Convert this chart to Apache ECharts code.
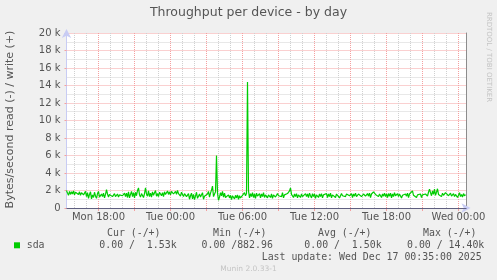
<!DOCTYPE html>
<html>
<head>
<meta charset="utf-8">
<script src="https://cdn.jsdelivr.net/npm/echarts@6/dist/echarts.min.js"></script>
<style>
html,body{margin:0;padding:0;background:#f0f0f0;}
#chart{width:497px;height:280px;}
</style>
</head>
<body>
<div id="chart"></div>
<script>
// ---- data (minutes since Mon 00:00; one sample per 5 minutes) ----
const startMinute = 920;      // Mon 15:20
const endMinute = 2920;       // Wed 00:40
const stepMinutes = 5;
const writeValues = [
2000,1700,1450,1900,1550,1850,1600,1950,1500,1800,1650,2000,1550,1850,1450,1750,1950,1500,1700,1900,
1300,1750,1100,1550,1850,1050,1500,1200,1800,1350,1100,1650,1900,1250,1050,1600,1300,1700,1150,1550,
2100,1600,1250,1550,1350,1600,1300,1500,1650,1300,1450,1600,1250,1500,1650,1350,1400,1550,1700,1300,
1700,1200,1850,1150,1550,1900,1300,1750,1150,1800,1400,2000,2300,1500,1250,1650,1850,1200,1650,2300,
1600,1350,1950,1300,1700,1250,1850,1450,1750,2000,1350,1650,1300,1800,1950,1400,1750,1300,1850,1550,
1750,1950,1550,1850,1500,1900,2000,1600,1450,1900,1550,2000,1650,1500,1350,1800,1600,1300,1650,1450,
1300,1100,1650,1000,1400,1700,1050,1550,950,1350,1800,1100,1000,1600,1250,1050,1750,1000,1350,1500,
1150,1600,1900,1250,1700,2050,2500,1300,1100,1850,6000,1700,890,1250,1750,1400,1900,1250,1700,1200,
1350,1000,1500,1150,1450,950,1400,1550,1050,1450,1150,1500,1000,1400,1150,1050,1450,1500,1750,1400,
1650,14400,1950,1150,1650,1300,1750,1200,1600,1100,1700,1350,1200,1650,1150,1600,1300,1750,1200,1500,
1650,1150,1500,1700,1200,1600,1100,1500,1700,1250,1150,1650,1400,1200,1600,1300,1750,1150,1500,1600,
1300,1650,1800,1950,2300,1550,1350,1200,1600,1300,1650,1150,1500,1700,1200,1600,1300,1500,1150,1650,
1300,1600,1200,1700,1400,1150,1650,1300,1600,1100,1500,1700,1200,1600,1300,1650,1150,1500,1600,1300,
1650,1200,1600,1300,1700,1150,1500,1650,1300,1200,1600,1400,1700,1150,1350,1650,1400,1200,1600,1300,
1600,1750,1800,1400,1300,1650,1200,1600,1350,1700,1300,1150,1600,1400,1650,1300,1200,1600,1700,1350,
1300,1650,1350,1700,1200,1600,1750,1850,2050,1550,1350,1650,1300,1600,1750,1200,1600,1350,1700,1300,
1600,1200,1650,1350,1700,1150,1600,1300,1750,1400,1200,1650,1300,1600,1700,1150,1450,1650,1300,1600,
1350,1700,1200,1600,1750,1800,1950,1450,1300,1650,1200,1500,1700,1300,1600,1200,1500,1650,1300,1600,
1700,1350,1800,2150,1750,1400,1950,1550,2150,1450,1800,2200,1550,1350,1650,1300,1700,1450,1350,1750,
1850,1950,1400,1300,1700,1350,1200,1650,1300,1550,1700,1200,1450,1750,1300,1550,1250,1650,1400,1530
];
const labelMinutes = [1080, 1440, 1800, 2160, 2520, 2880];
const labelTexts = ['Mon 18:00', 'Tue 00:00', 'Tue 06:00', 'Tue 12:00', 'Tue 18:00', 'Wed 00:00'];
const majorMinutes = [1080, 1260, 1440, 1620, 1800, 1980, 2160, 2340, 2520, 2700, 2880];
const minorMinutes = [960,1020,1140,1200,1320,1380,1500,1560,1680,1740,1860,1920,2040,2100,2220,2280,2400,2460,2580,2640,2760,2820];
const yMax = 20000;
const yStep = 2000;
const legendHeaders = ['Cur (-/+)', 'Min (-/+)', 'Avg (-/+)', 'Max (-/+)'];
const legendValues = ['0.00 /  1.53k', '0.00 /882.96', '0.00 /  1.50k', '0.00 / 14.40k'];
const seriesName = 'sda';
const titleText = 'Throughput per device - by day';
const yTitle = 'Bytes/second read (-) / write (+)';
const lastUpdate = 'Last update: Wed Dec 17 00:35:00 2025';
const footer = 'Munin 2.0.33-1';
const sideText = 'RRDTOOL / TOBI OETIKER';

// ---- chart ----
const seriesData = writeValues.map((v, i) => [startMinute + i * stepMinutes, v]);
const SANS = 'DejaVu Sans';
const MONO = 'DejaVu Sans Mono';
const TXT = '#555555';
const AXIS = '#c8ccf4';
const RED = '#f5a0a0';
const GRAY = '#d0d0d0';

const headerX = [107, 213, 318, 423];
const valueX = [99.3, 201.5, 304.3, 407];

const graphics = [
  {type:'text', left:'center', top:6, style:{text:titleText, font:'12.5px ' + SANS, fill:TXT}},
  {type:'text', x:10, y:119.5, rotation:Math.PI/2, style:{text:yTitle, font:'11px ' + SANS, fill:TXT, textAlign:'center', textVerticalAlign:'middle'}},
  {type:'text', x:489, y:57, rotation:-Math.PI/2, style:{text:sideText, font:'7px ' + SANS, fill:'#c4c4c4', textAlign:'center', textVerticalAlign:'middle'}},
  {type:'rect', shape:{x:14, y:242.3, width:6, height:6}, style:{fill:'#00cc00'}},
  {type:'text', x:26.7, y:245.7, style:{text:seriesName, font:'9.9px ' + MONO, fill:TXT, textVerticalAlign:'middle'}},
  {type:'text', x:261.7, y:257.3, style:{text:lastUpdate, font:'9.9px ' + MONO, fill:TXT, textVerticalAlign:'middle'}},
  {type:'text', x:248.5, y:269, style:{text:footer, font:'7.5px ' + SANS, fill:'#c4c4c4', textAlign:'center', textVerticalAlign:'middle'}}
];
legendHeaders.forEach((t, i) => graphics.push({type:'text', x:headerX[i], y:233.3, style:{text:t, font:'9.9px ' + MONO, fill:TXT, textVerticalAlign:'middle'}}));
legendValues.forEach((t, i) => graphics.push({type:'text', x:valueX[i], y:245.7, style:{text:t, font:'9.9px ' + MONO, fill:TXT, textVerticalAlign:'middle'}}));

const fmtMinute = v => {
  const idx = labelMinutes.indexOf(v);
  return idx >= 0 ? labelTexts[idx] : '';
};

const gridMarks = []
  .concat(minorMinutes.map(m => ({xAxis:m, lineStyle:{color:GRAY, type:[1,1], width:1}})))
  .concat(majorMinutes.map(m => ({xAxis:m, lineStyle:{color:RED, type:[1,1], width:1}})));

const chart = echarts.init(document.getElementById('chart'), null, {renderer:'canvas'});
chart.setOption({
  animation:false,
  backgroundColor:'#f0f0f0',
  grid:{left:66.5, top:33, width:400, height:175, show:true, backgroundColor:'#ffffff', borderWidth:0},
  xAxis:[
    {type:'value', min:startMinute, max:endMinute, position:'bottom',
     axisLine:{show:true, lineStyle:{color:AXIS, width:1}, symbol:['none','arrow'], symbolSize:[7,9], symbolOffset:[0,4]},
     axisTick:{show:true, customValues:majorMinutes, length:3, lineStyle:{color:RED}},
     axisLabel:{show:true, customValues:labelMinutes, formatter:fmtMinute, fontFamily:SANS, fontSize:10, color:TXT, margin:4},
     splitLine:{show:false}}
  ],
  yAxis:[
    {type:'value', min:0, max:yMax, interval:yStep, position:'left',
     axisLine:{show:true, lineStyle:{color:AXIS, width:1}, symbol:['none','arrow'], symbolSize:[7,9], symbolOffset:[0,4]},
     axisTick:{show:true, length:2, lineStyle:{color:RED}},
     axisLabel:{fontFamily:SANS, fontSize:10, color:TXT, margin:6, formatter:v => v === 0 ? '0' : (v/1000) + ' k'},
     splitLine:{show:true, lineStyle:{color:RED, type:[1,1], width:1}},
     minorTick:{show:false, splitNumber:2},
     minorSplitLine:{show:true, lineStyle:{color:GRAY, type:[1,1], width:1}}},
    {type:'value', min:0, max:yMax, position:'right',
     axisLine:{show:true, lineStyle:{color:'#8c8c8c', width:1}},
     axisTick:{show:false}, axisLabel:{show:false}, splitLine:{show:false}}
  ],
  series:[
    {name:'grid', type:'line', xAxisIndex:0, yAxisIndex:0, data:[], silent:true, z:1,
     markLine:{silent:true, z:1, symbol:'none', label:{show:false}, animation:false, data:gridMarks}},
    {name:seriesName, type:'line', xAxisIndex:0, yAxisIndex:0, data:seriesData, showSymbol:false, symbol:'none', z:3,
     lineStyle:{color:'#00cc00', width:1.2}, itemStyle:{color:'#00cc00'}, silent:true,
     markLine:{silent:true, z:4, symbol:'none', label:{show:false}, lineStyle:{color:'#606080', type:'solid', width:1}, data:[{yAxis:0}]}}
  ],
  graphic:graphics
});
</script>
</body>
</html>
